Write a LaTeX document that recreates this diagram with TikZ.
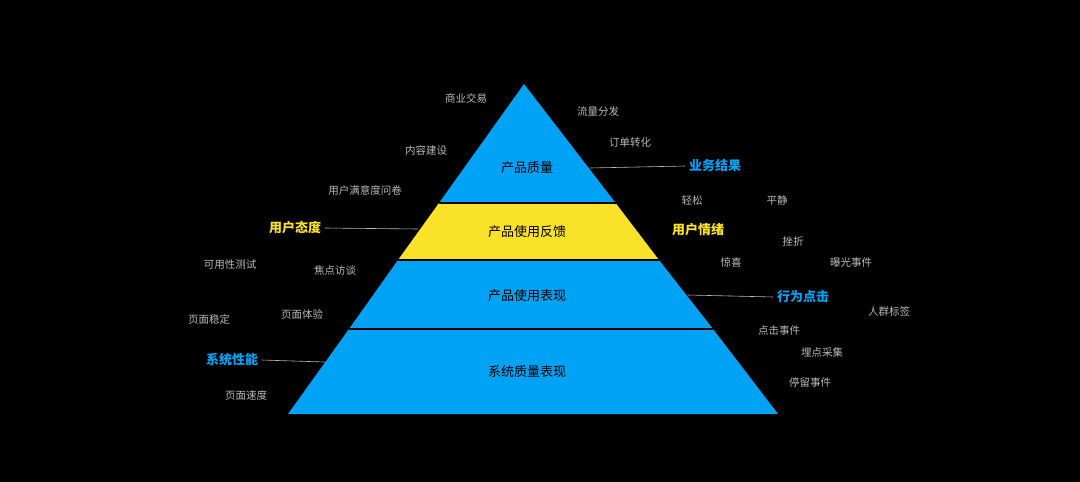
\documentclass[tikz,border=0pt]{standalone}
\usepackage{fontspec}
\newfontfamily\cjk{Noto Sans CJK SC}
\usetikzlibrary{positioning}
\definecolor{pblue}{RGB}{0,162,245}
\definecolor{pyellow}{RGB}{250,226,40}
\definecolor{pgray}{RGB}{185,185,185}
\tikzset{
  tier/.style={font=\cjk\fontsize{13}{15}\selectfont, text=black},
  side/.style={font=\cjk\fontsize{10.5}{12}\selectfont, text=pgray},
  keyblue/.style={font=\cjk\bfseries\fontsize{13}{15}\selectfont, text=pblue},
  keyyellow/.style={font=\cjk\bfseries\fontsize{13}{15}\selectfont, text=pyellow},
  lead/.style={pgray, line width=0.6pt}
}
\begin{document}
\begin{tikzpicture}[x=1pt,y=-1pt]
    \fill[black] (0,0) rectangle (1080,482);
    \useasboundingbox (0,0) rectangle (1080,482);

    % pyramid bands
    \fill[pblue] (524,84) -- (615.6,203) -- (439,203) -- cycle;
    \fill[pyellow] (439,203) -- (615.6,203) -- (659,260) -- (398,260) -- cycle;
    \fill[pblue] (398,260) -- (659,260) -- (713,329) -- (349,329) -- cycle;
    \fill[pblue] (349,329) -- (713,329) -- (778,414) -- (288,414) -- cycle;
    \draw[black, line width=1.5pt] (439,203) -- (615.6,203);
    \draw[black, line width=1.5pt] (398,260) -- (659,260);
    \draw[black, line width=1.5pt] (349,329) -- (713,329);

    \node[tier] (t1) at (527,168) {产品质量};
    \node[tier] (t2) at (527,232) {产品使用反馈};
    \node[tier] (t3) at (527,296) {产品使用表现};
    \node[tier] (t4) at (527,372) {系统质量表现};

    % key labels
    \node[keyblue] (k1) at (715,166) {业务结果};
    \node[keyyellow] (k2) at (295,228) {用户态度};
    \node[keyyellow] (k3) at (698,230) {用户情绪};
    \node[keyblue] (k4) at (803,297) {行为点击};
    \node[keyblue] (k5) at (232,360) {系统性能};

    \coordinate (c1) at (590,168);
    \coordinate (c2) at (418,229);
    \coordinate (c4) at (688,295);
    \coordinate (c5) at (325,362);
    \draw[lead] (k1.west) -- (c1);
    \draw[lead] (k2.east) -- (c2);
    \draw[lead] (k4.west) -- (c4);
    \draw[lead] (k5.east) -- (c5);

    % side notes
    \node[side] (s1) at (466,98) {商业交易};
    \node[side] (s2) at (598,112) {流量分发};
    \node[side] (s3) at (426,150) {内容建设};
    \node[side] (s4) at (630,143) {订单转化};
    \node[side] (s5) at (365,190) {用户满意度问卷};
    \node[side] (s6) at (692,201) {轻松};
    \node[side] (s7) at (777,201) {平静};
    \node[side] (s8) at (793,241) {挫折};
    \node[side] (s9) at (731,262) {惊喜};
    \node[side] (s10) at (851,263) {曝光事件};
    \node[side] (s11) at (230,265) {可用性测试};
    \node[side] (s12) at (335,270) {焦点访谈};
    \node[side] (s13) at (209,319) {页面稳定};
    \node[side] (s14) at (302,314) {页面体验};
    \node[side] (s15) at (889,311) {人群标签};
    \node[side] (s16) at (779,331) {点击事件};
    \node[side] (s17) at (822,352) {埋点采集};
    \node[side] (s18) at (810,382) {停留事件};
    \node[side] (s19) at (246,395) {页面速度};

\end{tikzpicture}
\end{document}
